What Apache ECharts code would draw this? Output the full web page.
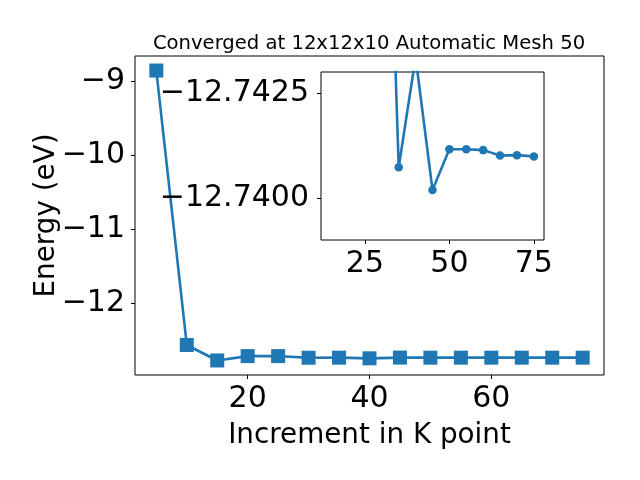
<!DOCTYPE html>
<html>
<head>
<meta charset="utf-8">
<script src="https://cdn.jsdelivr.net/npm/echarts@6/dist/echarts.min.js"></script>
<style>html,body{margin:0;padding:0;background:#fff}#c{width:640px;height:480px}</style>
</head>
<body>
<div id="c"></div>
<script>
const titleText = 'Converged at 12x12x10 Automatic Mesh 50';
const xName = 'Increment in K point';
const yName = 'Energy (eV)';
const mainX = [5, 10, 15, 20, 25, 30, 35, 40, 45, 50, 55, 60, 65, 70, 75];
const mainY = [-8.849, -12.569, -12.779, -12.720, -12.720, -12.742, -12.741, -12.750, -12.740, -12.741, -12.741, -12.741, -12.741, -12.741, -12.741];
const mainXTicks = [20, 40, 60];
const mainYTicks = [-12, -11, -10, -9];
const insetX = [15, 20, 25, 30, 35, 40, 45, 50, 55, 60, 65, 70, 75];
const insetY = [-12.779, -12.760, -12.755, -12.7530, -12.74073, -12.74335, -12.74019, -12.74116, -12.74116, -12.74114, -12.74101, -12.74102, -12.74099];
const insetXTicks = [25, 50, 75];
const insetYTicks = [-12.7425, -12.7400];

const FONT = 'DejaVu Sans';
const C = '#1f77b4';
const minus = s => s.replace('-', '\u2212');
const pairs = (xs, ys) => xs.map((x, i) => [x, ys[i]]);

const chart = echarts.init(document.getElementById('c'), null, {renderer: 'canvas'});
const tickStyle = {show: true, length: 4, lineStyle: {color: '#000', width: 1}};
const lblStyle = {color: '#000', fontFamily: FONT, fontSize: 30};
chart.setOption({
  animation: false,
  backgroundColor: '#fff',
  title: {
    text: titleText, left: 364, top: 29, textAlign: 'center',
    textStyle: {fontFamily: FONT, fontSize: 19.6, fontWeight: 'normal', color: '#000'}
  },
  grid: [
    {left: 135, right: 36, top: 56, bottom: 105, show: true, borderColor: '#000', borderWidth: 1, backgroundColor: 'transparent'},
    {left: 321, right: 96, top: 72, bottom: 240, show: true, borderColor: '#000', borderWidth: 1, backgroundColor: '#fff', z: 5}
  ],
  xAxis: [
    {type: 'value', gridIndex: 0, min: 1.5, max: 78.5,
     axisLine: {show: false}, splitLine: {show: false},
     axisTick: Object.assign({customValues: mainXTicks}, tickStyle),
     axisLabel: Object.assign({customValues: mainXTicks, margin: 9, formatter: v => minus(String(v))}, lblStyle),
     name: xName, nameLocation: 'middle', nameGap: 47, nameMoveOverlap: false,
     nameTextStyle: {color: '#000', fontFamily: FONT, fontSize: 27.8}},
    {type: 'value', gridIndex: 1, min: 12, max: 78, z: 6,
     axisLine: {show: false}, splitLine: {show: false},
     axisTick: Object.assign({customValues: insetXTicks}, tickStyle),
     axisLabel: Object.assign({customValues: insetXTicks, margin: 9, formatter: v => String(v)}, lblStyle)}
  ],
  yAxis: [
    {type: 'value', gridIndex: 0, min: -12.976, max: -8.652,
     axisLine: {show: false}, splitLine: {show: false},
     axisTick: Object.assign({customValues: mainYTicks}, tickStyle),
     axisLabel: Object.assign({customValues: mainYTicks, margin: 10, formatter: v => minus(String(Math.round(v)))}, lblStyle),
     name: yName, nameLocation: 'middle', nameGap: 74, nameRotate: 90, nameMoveOverlap: false,
     nameTextStyle: {color: '#000', fontFamily: FONT, fontSize: 27.8}},
    {type: 'value', gridIndex: 1, min: -12.7430, max: -12.7390, inverse: true, z: 6,
     axisLine: {show: false}, splitLine: {show: false},
     axisTick: Object.assign({customValues: insetYTicks}, tickStyle),
     axisLabel: Object.assign({customValues: insetYTicks, margin: 12, formatter: v => minus(v.toFixed(4))}, lblStyle)}
  ],
  series: [
    {type: 'line', xAxisIndex: 0, yAxisIndex: 0, data: pairs(mainX, mainY),
     symbol: 'rect', symbolSize: 14, showAllSymbol: true,
     lineStyle: {color: C, width: 2.6}, itemStyle: {color: C}, z: 2},
    {type: 'line', xAxisIndex: 1, yAxisIndex: 1, data: pairs(insetX, insetY),
     symbol: 'circle', symbolSize: 8.5, showAllSymbol: true, clip: true,
     lineStyle: {color: C, width: 2.6}, itemStyle: {color: C}, z: 7}
  ]
});
</script>
</body>
</html>
